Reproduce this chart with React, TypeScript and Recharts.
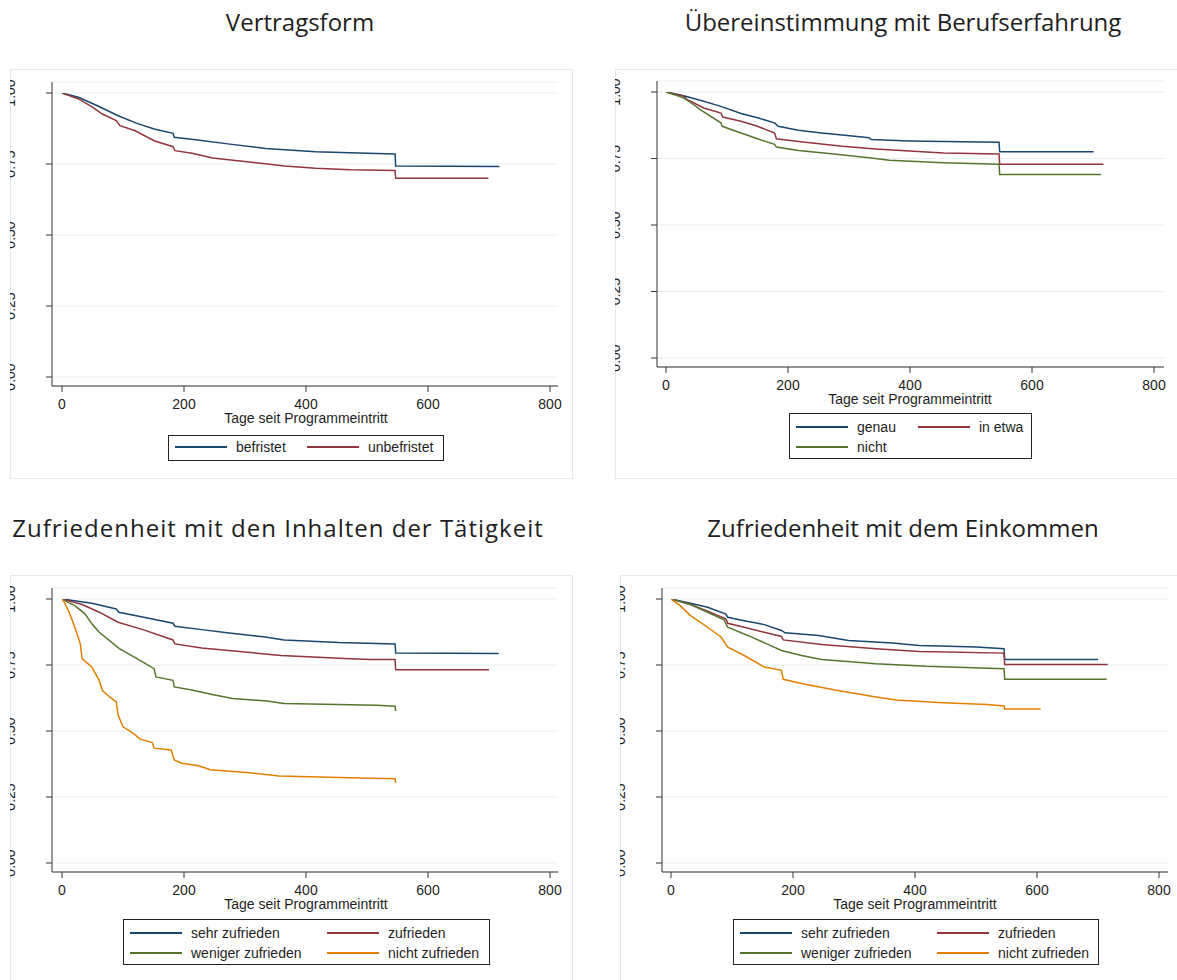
import React from 'react'
import { LineChart, Line, XAxis, YAxis, CartesianGrid } from 'recharts'

const NAVY = '#1a476f'
const MAROON = '#90353b'
const GREEN = '#55752f'
const ORANGE = '#e37e00'

const xTicks = [0, 200, 400, 600, 800]
const yTicks = [0, 0.25, 0.5, 0.75, 1]
const xTitle = 'Tage seit Programmeintritt'

// Vertragsform: [Tage, Überlebensrate]
const befristet: [number, number][] = [[0, 1], [27, 0.985], [58, 0.955], [92, 0.92], [123, 0.893], [151, 0.873], [182, 0.858], [184, 0.844], [219, 0.835], [275, 0.82], [334, 0.805], [365, 0.8], [416, 0.793], [500, 0.788], [546, 0.785], [547, 0.743], [717, 0.741]]
const unbefristet: [number, number][] = [[0, 1], [27, 0.979], [50, 0.95], [66, 0.926], [89, 0.903], [95, 0.885], [120, 0.867], [151, 0.832], [182, 0.811], [185, 0.797], [213, 0.788], [247, 0.771], [303, 0.758], [365, 0.743], [416, 0.735], [472, 0.73], [546, 0.727], [547, 0.7], [699, 0.7]]

// Übereinstimmung mit Berufserfahrung
const genau: [number, number][] = [[0, 1], [29, 0.986], [56, 0.969], [90, 0.946], [123, 0.919], [150, 0.903], [178, 0.884], [184, 0.871], [217, 0.856], [255, 0.846], [289, 0.838], [333, 0.828], [336, 0.821], [399, 0.816], [455, 0.814], [546, 0.811], [547, 0.775], [701, 0.775]]
const inEtwa: [number, number][] = [[0, 1], [29, 0.984], [35, 0.971], [62, 0.94], [90, 0.921], [93, 0.906], [123, 0.89], [150, 0.871], [178, 0.846], [181, 0.824], [217, 0.814], [289, 0.796], [344, 0.786], [399, 0.778], [455, 0.771], [546, 0.767], [547, 0.728], [717, 0.728]]
const nicht: [number, number][] = [[0, 1], [29, 0.978], [45, 0.953], [56, 0.934], [90, 0.884], [92, 0.871], [123, 0.846], [150, 0.824], [178, 0.803], [181, 0.793], [217, 0.78], [267, 0.769], [333, 0.753], [366, 0.743], [455, 0.734], [546, 0.728], [547, 0.69], [713, 0.69]]

// Zufriedenheit mit den Inhalten der Tätigkeit
const inhSehr: [number, number][] = [[0, 1], [49, 0.984], [89, 0.962], [93, 0.95], [134, 0.931], [182, 0.908], [185, 0.897], [229, 0.884], [274, 0.871], [333, 0.856], [364, 0.845], [454, 0.835], [546, 0.83], [547, 0.795], [716, 0.794]]
const inhZuf: [number, number][] = [[0, 1], [33, 0.979], [61, 0.95], [92, 0.912], [134, 0.883], [182, 0.845], [185, 0.83], [229, 0.814], [291, 0.801], [359, 0.786], [454, 0.776], [505, 0.771], [546, 0.771], [547, 0.732], [700, 0.732]]
const inhWeniger: [number, number][] = [[0, 1], [10, 0.987], [21, 0.975], [38, 0.943], [49, 0.906], [61, 0.874], [94, 0.812], [123, 0.774], [151, 0.736], [154, 0.705], [182, 0.692], [184, 0.667], [213, 0.655], [246, 0.638], [280, 0.623], [336, 0.614], [364, 0.604], [516, 0.598], [546, 0.594], [547, 0.575]]
const inhNicht: [number, number][] = [[0, 1], [4, 0.987], [13, 0.943], [21, 0.893], [30, 0.83], [33, 0.774], [49, 0.742], [61, 0.692], [66, 0.654], [78, 0.629], [89, 0.61], [92, 0.56], [100, 0.516], [117, 0.491], [128, 0.469], [148, 0.456], [151, 0.435], [179, 0.428], [184, 0.39], [196, 0.378], [224, 0.368], [243, 0.353], [302, 0.343], [356, 0.33], [488, 0.322], [546, 0.319], [547, 0.303]]

// Zufriedenheit mit dem Einkommen
const einSehr: [number, number][] = [[0, 1], [32, 0.984], [60, 0.969], [90, 0.943], [93, 0.931], [120, 0.918], [153, 0.903], [181, 0.881], [187, 0.872], [242, 0.862], [291, 0.843], [363, 0.833], [407, 0.824], [501, 0.818], [546, 0.812], [547, 0.771], [700, 0.771]]
const einZuf: [number, number][] = [[0, 1], [32, 0.979], [60, 0.954], [90, 0.925], [93, 0.908], [120, 0.893], [153, 0.874], [181, 0.858], [184, 0.845], [247, 0.828], [336, 0.812], [407, 0.801], [546, 0.795], [547, 0.752], [716, 0.752]]
const einWeniger: [number, number][] = [[0, 1], [32, 0.979], [60, 0.95], [87, 0.921], [93, 0.893], [126, 0.862], [159, 0.828], [181, 0.805], [214, 0.786], [247, 0.771], [336, 0.755], [418, 0.745], [546, 0.736], [547, 0.696], [714, 0.696]]
const einNicht: [number, number][] = [[0, 1], [15, 0.975], [32, 0.937], [60, 0.893], [82, 0.856], [93, 0.818], [120, 0.786], [153, 0.742], [181, 0.73], [184, 0.696], [214, 0.68], [269, 0.655], [336, 0.629], [369, 0.617], [446, 0.607], [518, 0.6], [546, 0.595], [547, 0.583], [606, 0.583]]

const SANS = '"Liberation Sans", Arial, sans-serif'
const TEXT = '#1e1e1e'

type Series = { name: string; color: string; points: [number, number][] }
type Box = { l: number; t: number; r: number; b: number }

type PanelProps = {
  title: string
  titleX: number
  titleY: number
  titleSpacing?: number
  box: Box
  axisX: number
  plotTop: number
  plotBottom: number
  plotRight: number
  day0: number
  day800: number
  y1: number
  y0: number
  labelX: number
  series: Series[]
  legend: { l: number; t: number; w: number; h: number; col2: number }
}

function LegendBox({ items, l, t, w, h, col2 }: { items: Series[]; l: number; t: number; w: number; h: number; col2: number }) {
  const rowTop = items.length > 2 ? 3 : 1
  return (
    <div style={{ position: 'absolute', left: l, top: t, width: w, height: h, border: '1px solid #222', boxSizing: 'border-box', background: '#fff' }}>
      {items.map((it, i) => {
        const col = i % 2
        const row = Math.floor(i / 2)
        return (
          <div key={it.name} style={{ position: 'absolute', left: col ? col2 - 1 : 6, top: rowTop + row * 20, height: 20, display: 'flex', alignItems: 'center', whiteSpace: 'nowrap' }}>
            <div style={{ width: 52, height: 2, background: it.color }} />
            <span style={{ marginLeft: 9, fontSize: 14, fontFamily: SANS, color: TEXT }}>{it.name}</span>
          </div>
        )
      })}
    </div>
  )
}

function Panel(p: PanelProps) {
  const w = p.box.r - p.box.l
  const h = p.box.b - p.box.t
  const xAxisH = 30
  const atRight = p.box.r >= 1177
  const atBottom = p.box.b >= 980

  const YTick = (props: any) => {
    const { y, payload } = props
    return (
      <text x={p.labelX} y={y} transform={`rotate(-90, ${p.labelX}, ${y})`} textAnchor="middle" fontSize={14} fontFamily={SANS} fill={TEXT}>
        {Number(payload.value).toFixed(2)}
      </text>
    )
  }

  return (
    <>
      <div style={{ position: 'absolute', left: p.titleX - 300, top: p.titleY - 17, width: 600, textAlign: 'center', fontFamily: '"Open Sans", sans-serif', fontSize: 24, lineHeight: '34px', letterSpacing: p.titleSpacing ?? 0, color: TEXT, whiteSpace: 'nowrap' }}>
        {p.title}
      </div>
      <div style={{ position: 'absolute', left: p.box.l, top: p.box.t, width: w + (atRight ? 4 : 0), height: h + (atBottom ? 4 : 0), border: '1px solid #e2eaee', boxSizing: 'border-box' }} />
      <div style={{ position: 'absolute', left: p.box.l, top: p.box.t, width: w, height: h, overflow: 'hidden' }}>
        <LineChart
          width={w}
          height={h}
          margin={{ top: p.plotTop - p.box.t, right: p.box.r - p.plotRight, left: 0, bottom: p.box.b - p.plotBottom - xAxisH }}
        >
          <CartesianGrid vertical={false} stroke="#e6eff1" strokeWidth={1} />
          <XAxis
            type="number"
            dataKey="t"
            domain={[0, 800]}
            ticks={xTicks}
            allowDataOverflow
            height={xAxisH}
            padding={{ left: p.day0 - p.axisX, right: p.plotRight - p.day800 }}
            axisLine={{ stroke: '#333' }}
            tickLine={{ stroke: '#333' }}
            tickSize={6}
            tickMargin={7}
            tick={{ fontSize: 14, fontFamily: SANS, fill: TEXT }}
          />
          <YAxis
            type="number"
            dataKey="s"
            domain={[0, 1]}
            ticks={yTicks}
            allowDataOverflow
            width={p.axisX - p.box.l}
            padding={{ top: p.y1 - p.plotTop, bottom: p.plotBottom - p.y0 }}
            axisLine={{ stroke: '#333' }}
            tickLine={{ stroke: '#333' }}
            tickSize={6}
            tick={YTick}
          />
          {p.series.map(s => (
            <Line
              key={s.name}
              data={s.points.map(([t, v]) => ({ t, s: v }))}
              dataKey="s"
              type="linear"
              stroke={s.color}
              strokeWidth={1.5}
              dot={false}
              activeDot={false}
              isAnimationActive={false}
            />
          ))}
        </LineChart>
      </div>
      <div style={{ position: 'absolute', left: (p.day0 + p.day800) / 2 - 150, top: p.plotBottom + 24, width: 300, textAlign: 'center', fontFamily: SANS, fontSize: 14, lineHeight: '16px', color: TEXT }}>
        {xTitle}
      </div>
      <LegendBox items={p.series} {...p.legend} />
    </>
  )
}

export default function App() {
  return (
    <div style={{ position: 'absolute', left: 0, top: 0, width: 1177, height: 980, background: '#fff', overflow: 'hidden' }}>
      <Panel
        title="Vertragsform"
        titleX={300}
        titleY={22}
        box={{ l: 10, t: 69, r: 573, b: 479 }}
        axisX={52}
        plotTop={82}
        plotBottom={386}
        plotRight={558}
        day0={62}
        day800={550}
        y1={93}
        y0={377}
        labelX={5}
        series={[
          { name: 'befristet', color: NAVY, points: befristet },
          { name: 'unbefristet', color: MAROON, points: unbefristet },
        ]}
        legend={{ l: 168, t: 435, w: 276, h: 26, col2: 139 }}
      />
      <Panel
        title="Übereinstimmung mit Berufserfahrung"
        titleX={903}
        titleY={22}
        box={{ l: 615, t: 69, r: 1177, b: 479 }}
        axisX={657}
        plotTop={81}
        plotBottom={367}
        plotRight={1164}
        day0={666}
        day800={1154}
        y1={92}
        y0={358}
        labelX={5}
        series={[
          { name: 'genau', color: NAVY, points: genau },
          { name: 'in etwa', color: MAROON, points: inEtwa },
          { name: 'nicht', color: GREEN, points: nicht },
        ]}
        legend={{ l: 789, t: 413, w: 243, h: 46, col2: 129 }}
      />
      <Panel
        title="Zufriedenheit mit den Inhalten der Tätigkeit"
        titleX={278}
        titleY={528}
        titleSpacing={1}
        box={{ l: 10, t: 575, r: 573, b: 980 }}
        axisX={52}
        plotTop={588}
        plotBottom={872}
        plotRight={558}
        day0={62}
        day800={550}
        y1={599}
        y0={863}
        labelX={5}
        series={[
          { name: 'sehr zufrieden', color: NAVY, points: inhSehr },
          { name: 'zufrieden', color: MAROON, points: inhZuf },
          { name: 'weniger zufrieden', color: GREEN, points: inhWeniger },
          { name: 'nicht zufrieden', color: ORANGE, points: inhNicht },
        ]}
        legend={{ l: 123, t: 919, w: 367, h: 46, col2: 204 }}
      />
      <Panel
        title="Zufriedenheit mit dem Einkommen"
        titleX={903}
        titleY={528}
        box={{ l: 620, t: 575, r: 1177, b: 980 }}
        axisX={662}
        plotTop={588}
        plotBottom={872}
        plotRight={1168}
        day0={671}
        day800={1159}
        y1={599}
        y0={863}
        labelX={5}
        series={[
          { name: 'sehr zufrieden', color: NAVY, points: einSehr },
          { name: 'zufrieden', color: MAROON, points: einZuf },
          { name: 'weniger zufrieden', color: GREEN, points: einWeniger },
          { name: 'nicht zufrieden', color: ORANGE, points: einNicht },
        ]}
        legend={{ l: 733, t: 919, w: 366, h: 46, col2: 204 }}
      />
    </div>
  )
}
